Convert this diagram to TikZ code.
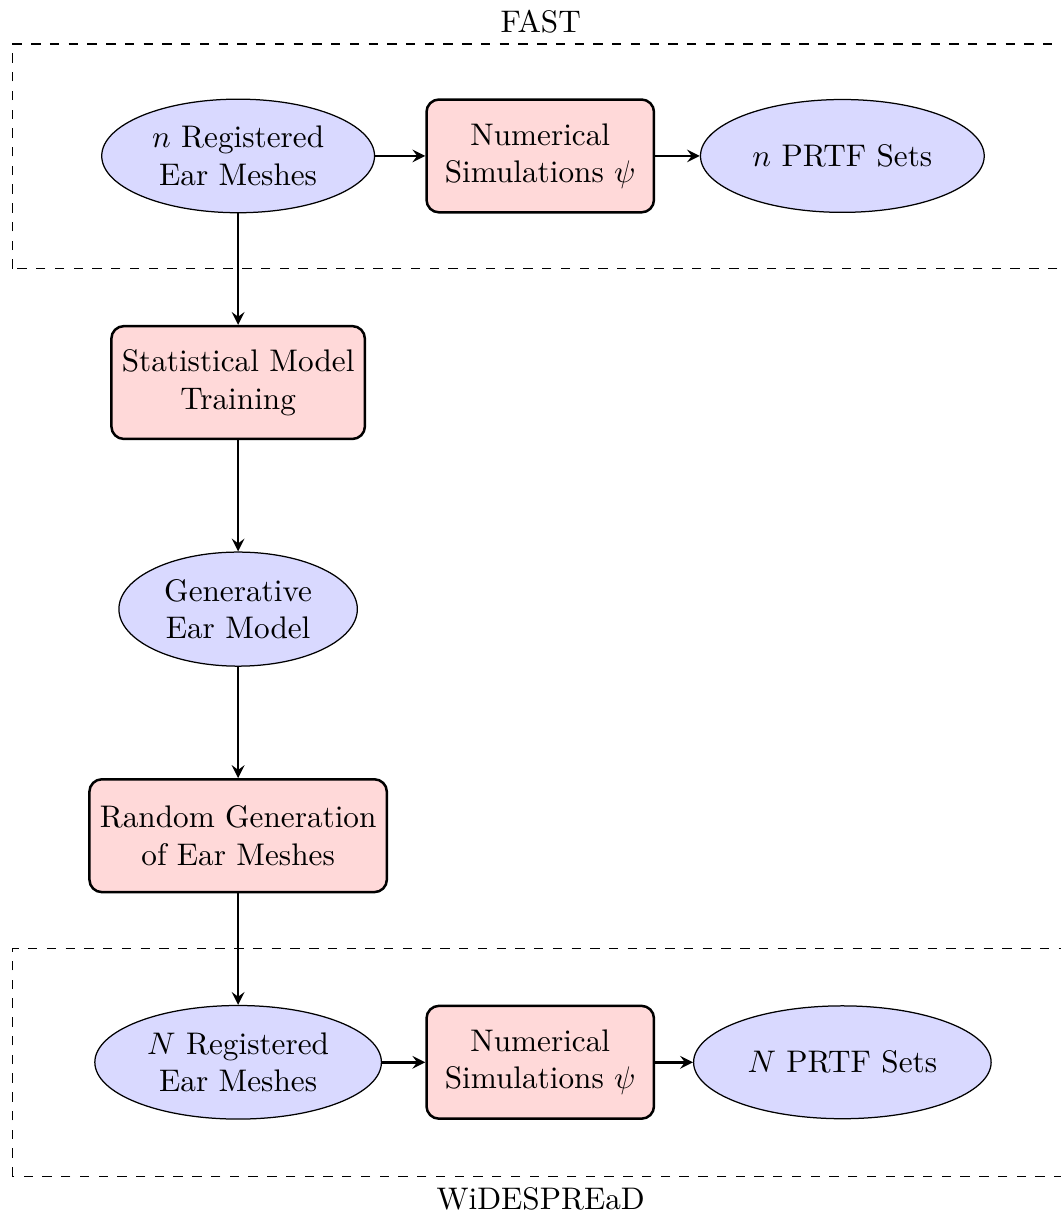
\documentclass[tikz,border=0pt]{standalone}
\usetikzlibrary{positioning,shapes.geometric}

\begin{document}
\begin{tikzpicture}[
        node distance=2.55cm and 3.4cm,
        datanode/.style={
            ellipse,
            draw=black,
            fill=blue!15,
            minimum height=1.27cm,
            align=center,
            on grid
        },
        procnode/.style={
            rectangle,
            rounded corners=4pt,
            draw=black,
            thick,
            fill=red!15,
            minimum height=1.27cm,
            align=center,
            on grid
        },
        simnode/.style={
            procnode,
            minimum width=2.56cm
        },
        flowarrow/.style={
            ->,
            thick,
            >=stealth
        },
        groupbox/.style={
            draw=black,
            dashed
        }
    ]

    \useasboundingbox (-2.68,-11.93) rectangle (9.25,1.755);

    % ---------------------------------------------------------
    % FAST row
    % ---------------------------------------------------------
    \node[datanode] (nmesh) at (0,0) {$n$ Registered\\Ear Meshes};
    \node[simnode, right=of nmesh] (nsim) {Numerical\\Simulations $\psi$};
    \node[datanode, right=of nsim] (nprtf) {$n$ PRTF Sets};

    % ---------------------------------------------------------
    % Model chain
    % ---------------------------------------------------------
    \node[procnode, below=of nmesh] (train) {Statistical Model\\Training};
    \node[datanode, below=of train] (model) {Generative\\Ear Model};
    \node[procnode, below=of model] (gen) {Random Generation\\of Ear Meshes};

    % ---------------------------------------------------------
    % WiDESPREaD row
    % ---------------------------------------------------------
    \node[datanode, below=of gen] (Nmesh) {$N$ Registered\\Ear Meshes};
    \node[simnode, right=of Nmesh] (Nsim) {Numerical\\Simulations $\psi$};
    \node[datanode, right=of Nsim] (Nprtf) {$N$ PRTF Sets};

    % Dashed groups
    \draw[groupbox] (-2.54,-1.27) rectangle (9.35,1.26)
        node[pos=0.5, yshift=1.265cm, above] (fast) {FAST};
    \draw[groupbox] (-2.54,-11.485) rectangle (9.35,-8.92)
        node[pos=0.5, yshift=-1.2825cm, below] (wide) {WiDESPREaD};

    % ---------------------------------------------------------
    % Arrows
    % ---------------------------------------------------------
    \draw[flowarrow] (nmesh) -- (nsim);
    \draw[flowarrow] (nsim) -- (nprtf);
    \draw[flowarrow] (nmesh) -- (train);
    \draw[flowarrow] (train) -- (model);
    \draw[flowarrow] (model) -- (gen);
    \draw[flowarrow] (gen) -- (Nmesh);
    \draw[flowarrow] (Nmesh) -- (Nsim);
    \draw[flowarrow] (Nsim) -- (Nprtf);

\end{tikzpicture}
\end{document}
